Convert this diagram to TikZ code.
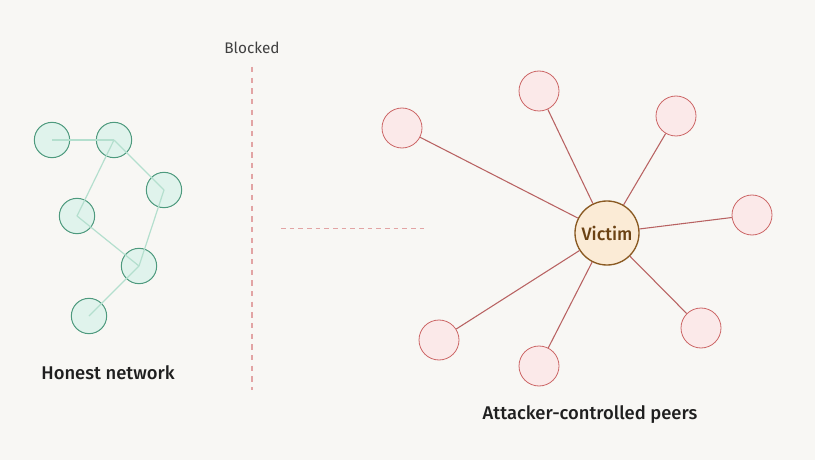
\documentclass[tikz,border=0pt]{standalone}
\usepackage{fontspec}
\setmainfont{Fira Sans}[BoldFont={Fira Sans Medium}]
\usepackage{tikz}
\usetikzlibrary{positioning}

\definecolor{bgpaper}{HTML}{F8F7F4}
\definecolor{honestfill}{HTML}{E0F3EC}
\definecolor{honestdraw}{HTML}{4E9A7E}
\definecolor{honestedge}{HTML}{B4DFCE}
\definecolor{peerfill}{HTML}{FBE9E9}
\definecolor{peerdraw}{HTML}{CC6666}
\definecolor{peeredge}{HTML}{B86262}
\definecolor{victimfill}{HTML}{FBEBD6}
\definecolor{victimdraw}{HTML}{8A5A22}
\definecolor{victimtext}{HTML}{6B4214}
\definecolor{blockline}{HTML}{E2A4A4}
\definecolor{labeltext}{HTML}{1F1F1F}

\begin{document}
\begin{tikzpicture}[
    x=0.75pt, y=-0.75pt,
    honest/.style={draw=honestdraw, fill=honestfill, circle, minimum size=26.5pt, inner sep=0pt, line width=0.75pt},
    peer/.style={draw=peerdraw, fill=peerfill, circle, minimum size=30pt, inner sep=0pt, line width=0.6pt},
    victim/.style={draw=victimdraw, fill=victimfill, circle, minimum size=48pt, inner sep=0pt, line width=1pt, font=\fontsize{13.5}{16}\selectfont\bfseries, text=victimtext},
    hlink/.style={draw=honestedge, line width=0.9pt},
    alink/.style={draw=peeredge, line width=0.8pt},
    blocked/.style={draw=blockline, dashed, line width=0.9pt, dash pattern=on 4pt off 4pt},
    caption/.style={font=\fontsize{13.8}{16}\selectfont\bfseries, text=labeltext}
  ]
    % Background
    \fill[bgpaper] (0,0) rectangle (815,460);
    \useasboundingbox (0,0) rectangle (815,460);

    % Honest network
    \node[honest] (h1) at (52,140) {};
    \node[honest] (h2) at (114,140) {};
    \node[honest] (h3) at (164,190) {};
    \node[honest] (h4) at (77,216) {};
    \node[honest] (h5) at (139,266) {};
    \node[honest] (h6) at (89,316) {};

    \draw[hlink] (h1.center) -- (h2.center);
    \draw[hlink] (h2.center) -- (h3.center);
    \draw[hlink] (h2.center) -- (h4.center);
    \draw[hlink] (h4.center) -- (h5.center);
    \draw[hlink] (h3.center) -- (h5.center);
    \draw[hlink] (h5.center) -- (h6.center);

    \node[caption] (honestlabel) at (108,373) {Honest network};

    % Blocked boundary
    \node[font=\fontsize{11.5}{13}\selectfont, text=black!75] (blockedlabel) at (252,48) {Blocked};
    \coordinate (walltop) at (252,67);
    \coordinate (wallbottom) at (252,390);
    \coordinate (gapstart) at (281,228);
    \coordinate (gapend) at (427,228);
    \draw[blocked] (walltop) -- (wallbottom);
    \draw[blocked, line width=0.6pt, dash pattern=on 3.5pt off 3pt] (gapstart) -- (gapend);

    % Attacker-controlled peers
    \node[victim] (victim) at (607,233) {Victim};
    \node[peer] (p1) at (402,128) {};
    \node[peer] (p2) at (539,91) {};
    \node[peer] (p3) at (676,116) {};
    \node[peer] (p4) at (752,215) {};
    \node[peer] (p5) at (701,328) {};
    \node[peer] (p6) at (539,366) {};
    \node[peer] (p7) at (439,340) {};

    \foreach \p in {p1,p2,p3,p4,p5,p6,p7}
      \draw[alink] (victim) -- (\p);

    \node[caption] (attackerlabel) at (590,415) {Attacker-controlled peers};

  \end{tikzpicture}
\end{document}
